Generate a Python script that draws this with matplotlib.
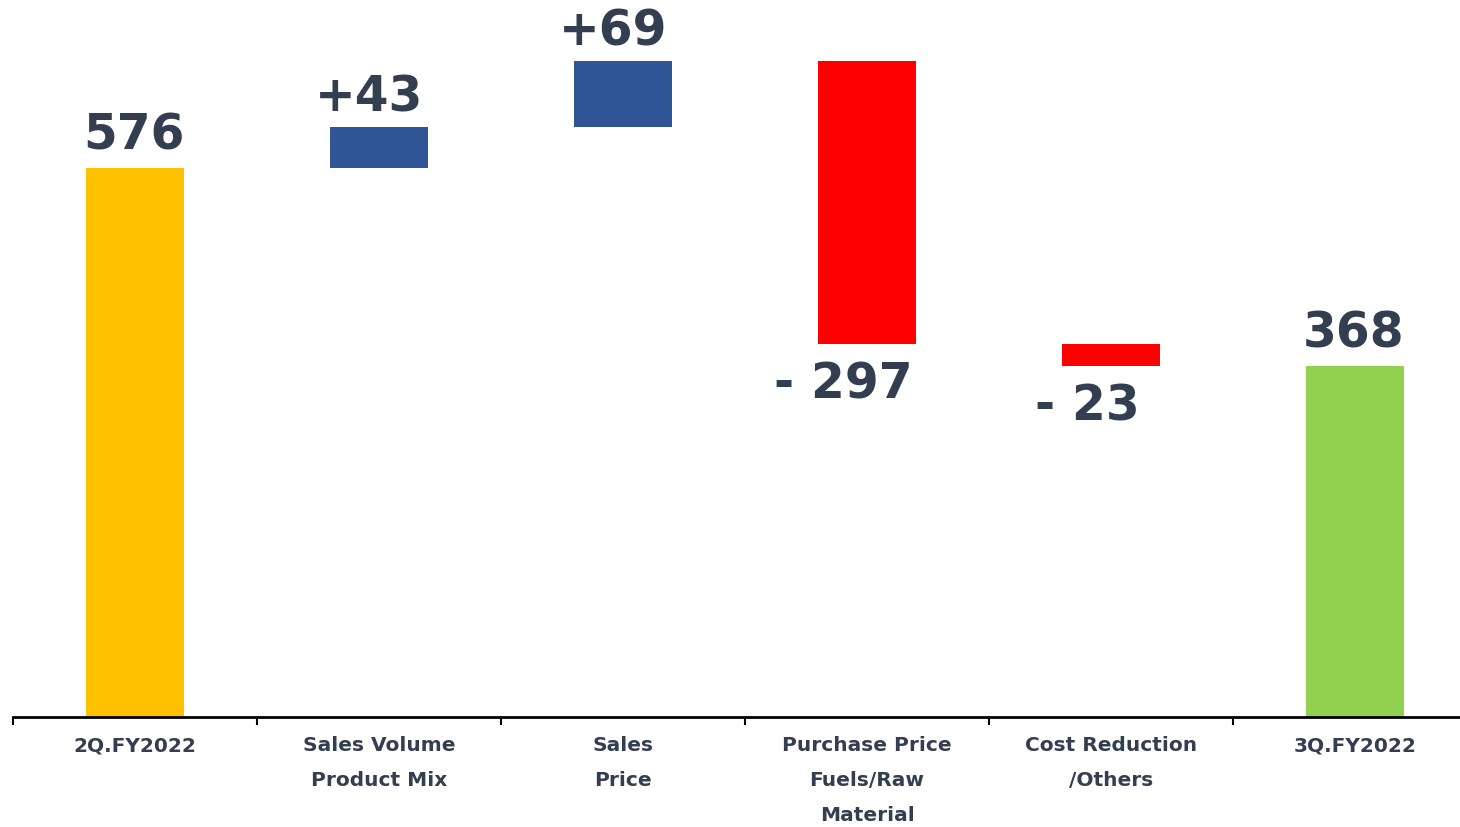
import matplotlib.pyplot as plt
import numpy as np

categories = ["2Q.FY2022", "Sales Volume\nProduct Mix", "Sales\nPrice",
              "Purchase Price\nFuels/Raw\nMaterial", "Cost Reduction\n/Others", "3Q.FY2022"]
changes = [576, 43, 69, -297, -23, 368]
kinds = ["total", "delta", "delta", "delta", "delta", "total"]
labels = ["576", "+43", "+69", "- 297", "- 23", "368"]
colors = ["#FFC000", "#2F5597", "#2F5597", "#FF0000", "#FF0000", "#92D050"]

text_color = "#333F50"

# waterfall bottoms / heights
bottoms = []
heights = []
running = 0
for k, v in zip(kinds, changes):
    if k == "total":
        bottoms.append(0)
        heights.append(v)
        running = v
    else:
        if v >= 0:
            bottoms.append(running)
        else:
            bottoms.append(running + v)
        heights.append(abs(v))
        running += v

fig = plt.figure(figsize=(14.6, 8.27), dpi=100)
ax = fig.add_axes([13 / 1460, 110 / 827, 1464 / 1460, 717 / 827])

x = np.arange(len(categories))
ax.bar(x, heights, bottom=bottoms, width=0.4, color=colors, zorder=2)

for i, (k, v) in enumerate(zip(kinds, changes)):
    top = bottoms[i] + heights[i]
    if k == "total":
        ax.annotate(labels[i], (x[i], top), xytext=(-1, 6), textcoords="offset points",
                    ha="center", va="bottom", fontsize=35, fontweight="bold", color=text_color)
    elif v >= 0:
        ax.annotate(labels[i], (x[i], top), xytext=(-7, 4), textcoords="offset points",
                    ha="center", va="bottom", fontsize=35, fontweight="bold", color=text_color)
    else:
        ax.annotate(labels[i], (x[i], bottoms[i]), xytext=(-17, -12), textcoords="offset points",
                    ha="center", va="top", fontsize=35, fontweight="bold", color=text_color)

ax.set_xlim(-0.5, len(categories) - 0.5)
ax.set_ylim(0, 752)
ax.set_xticks(np.arange(len(categories) + 1) - 0.5)
ax.set_xticklabels([])
ax.set_xticks(x, minor=True)
ax.set_xticklabels(categories, minor=True, fontsize=14.5, fontweight="bold",
                   color=text_color, linespacing=2.05, va="top")
ax.tick_params(axis="x", which="major", length=6, width=1.5, direction="out", color="black")
ax.tick_params(axis="x", which="minor", length=0, pad=14)
ax.set_yticks([])
for s in ["top", "right", "left"]:
    ax.spines[s].set_visible(False)
ax.spines["bottom"].set_linewidth(2)
ax.spines["bottom"].set_color("black")

plt.savefig("out.png", dpi=100)
